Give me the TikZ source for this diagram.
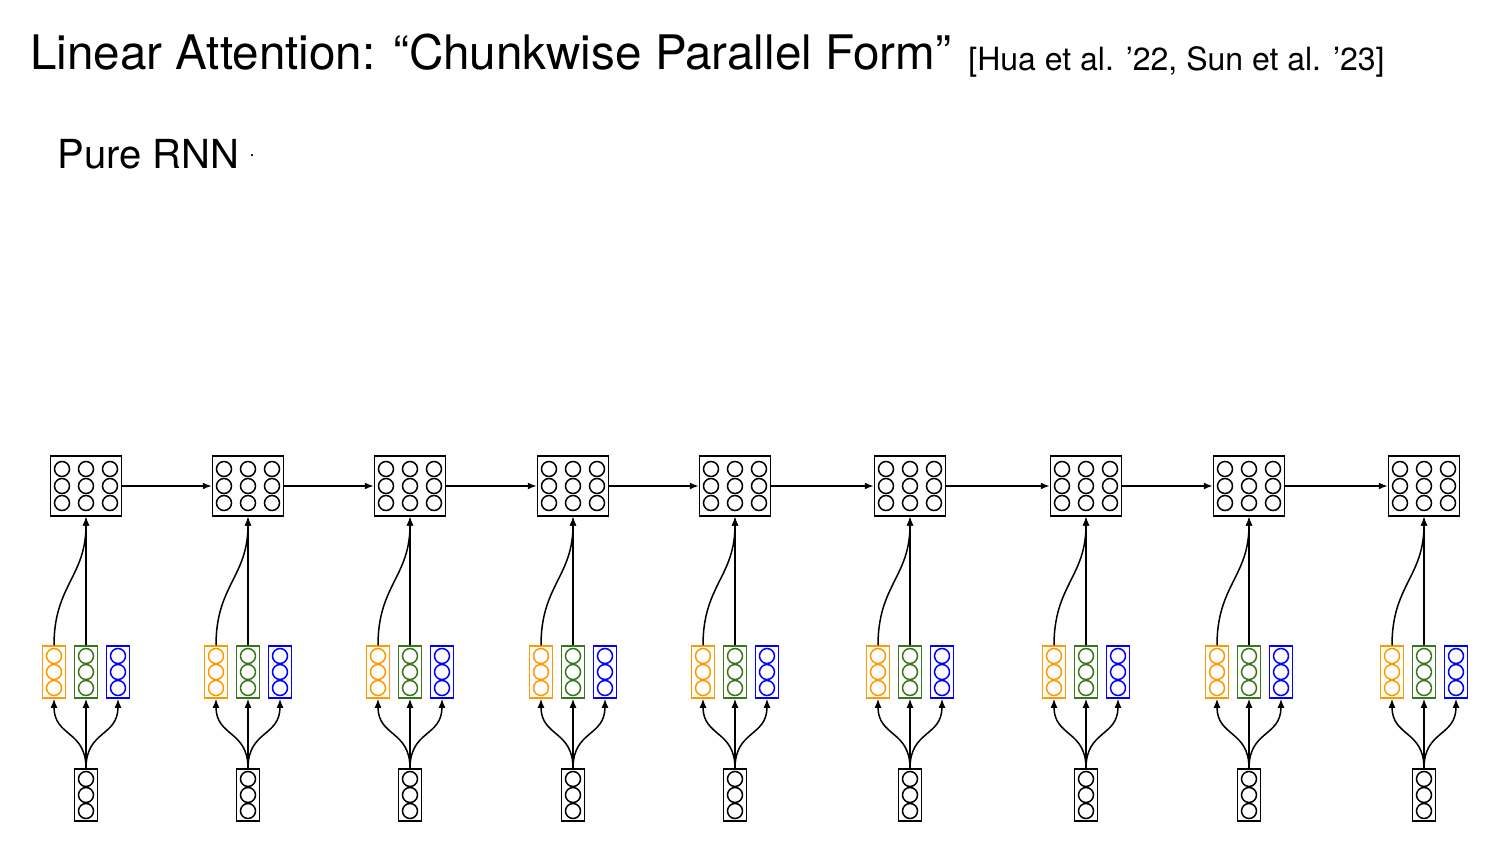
\documentclass[tikz,border=0pt]{standalone}
\usepackage{fontspec}
\setmainfont{TeX Gyre Heros}
\usetikzlibrary{arrows.meta}
\definecolor{qorange}{RGB}{255,153,0}
\definecolor{kgreen}{RGB}{56,118,29}
\definecolor{vblue}{RGB}{0,0,255}
\tikzset{
  statebox/.style={draw,line width=0.75pt,minimum width=35.5pt,minimum height=30pt,inner sep=0pt},
  vecbox/.style={draw,line width=0.75pt,minimum width=11.5pt,minimum height=26pt,inner sep=0pt},
  link/.style={line width=0.75pt,-{Latex[length=4.5pt,width=3.5pt]}}
}
\newcommand{\vcirc}[2]{% three units stacked in a vector node
  \foreach \dy in {-8,0,8}
    \draw[#2,line width=0.75pt] ([yshift=\dy pt]#1.center) circle (3.75pt);}

\begin{document}
\begin{tikzpicture}[x=0.5pt,y=-0.5pt]
  \useasboundingbox (0,0) rectangle (1500,844);
  % heading
  \node[anchor=base west,inner sep=0pt,font=\fontsize{23.8}{28}\selectfont] (title) at (30,70)
    {Linear Attention: “Chunkwise Parallel Form”};
  \node[anchor=base west,inner sep=0pt,font=\fontsize{16}{19}\selectfont] (cite) at (968,71)
    {[Hua et al. ’22, Sun et al. ’23]};
  \node[anchor=base west,inner sep=0pt,font=\fontsize{20}{24}\selectfont] (pure) at (57,169) {Pure RNN};
  \node[inner sep=0pt,font=\small] (dot) at (252,156) {.};
  % one column per time step
  \foreach \x [count=\i] in {86,248,410,573,735,910,1086,1249,1424} {
   \node[statebox] (h\i) at (\x,486) {};
   \node[vecbox,qorange] (q\i) at (\x-32,672) {};
   \node[vecbox,kgreen] (k\i) at (\x,672) {};
   \node[vecbox,vblue] (v\i) at (\x+32,672) {};
   \node[vecbox] (x\i) at (\x,795) {};
   \foreach \dx in {-12,0,12}
    \foreach \dy in {-8.5,0,8.5}
     \draw[line width=0.75pt] ([shift={(\dx pt,\dy pt)}]h\i.center) circle (3.75pt);
   \vcirc{q\i}{qorange}
   \vcirc{k\i}{kgreen}
   \vcirc{v\i}{vblue}
   \vcirc{x\i}{black}
   \draw[link] (x\i.north) .. controls +(0,-38) and +(0,38) .. (q\i.south);
   \draw[link] (x\i.north) -- (k\i.south);
   \draw[link] (x\i.north) .. controls +(0,-38) and +(0,38) .. (v\i.south);
   \draw[link] (q\i.north) .. controls +(0,-60) and +(0,60) .. (h\i.south);
   \draw[link] (k\i.north) -- (h\i.south);
  }
  % recurrence
  \foreach \i [evaluate=\i as \j using int(\i+1)] in {1,...,8}
   \draw[link] (h\i.east) -- (h\j.west);
\end{tikzpicture}
\end{document}
